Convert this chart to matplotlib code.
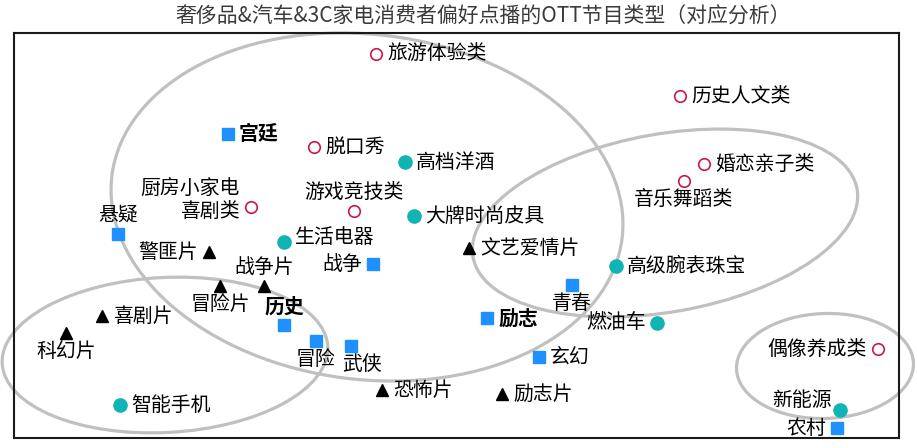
import matplotlib
matplotlib.use("Agg")
import matplotlib.pyplot as plt
from matplotlib.patches import Ellipse

plt.rcParams['font.family'] = ['Noto Sans CJK SC', 'DejaVu Sans']

title = "奢侈品&汽车&3C家电消费者偏好点播的OTT节目类型（对应分析）"

# Content types (open red circles)
content_labels = ["旅游体验类", "历史人文类", "脱口秀", "厨房小家电\n喜剧类", "游戏竞技类",
                  "婚恋亲子类", "音乐舞蹈类", "偶像养成类"]
content_x = [-0.80, 2.24, -1.42, -2.05, -1.02, 2.48, 2.28, 4.22]
content_y = [1.81, 1.39, 0.88, 0.28, 0.24, 0.71, 0.54, -1.14]

# Product categories (teal dots)
product_labels = ["高档洋酒", "大牌时尚皮具", "生活电器", "高级腕表珠宝", "燃油车", "智能手机", "新能源"]
product_x = [-0.51, -0.42, -1.72, 1.60, 2.01, -3.36, 3.84]
product_y = [0.73, 0.19, -0.07, -0.31, -0.88, -1.70, -1.75]

# Drama themes (blue squares)
theme_labels = ["宫廷", "悬疑", "战争", "历史", "冒险", "武侠", "励志", "青春", "玄幻", "农村"]
theme_x = [-2.28, -3.38, -0.83, -1.72, -1.40, -1.05, 0.31, 1.16, 0.83, 3.81]
theme_y = [1.01, 0.01, -0.29, -0.90, -1.06, -1.11, -0.83, -0.50, -1.22, -1.93]

# Film genres (black triangles)
genre_labels = ["警匪片", "战争片", "冒险片", "文艺爱情片", "喜剧片", "科幻片", "恐怖片", "励志片"]
genre_x = [-2.47, -1.92, -2.36, 0.13, -3.54, -3.90, -0.74, 0.46]
genre_y = [-0.17, -0.51, -0.51, -0.13, -0.81, -0.98, -1.55, -1.59]

# Cluster ellipses: centre x, centre y, width, height, angle
ell_cx = [-0.89, 2.09, -2.91, 3.69]
ell_cy = [0.28, 0.12, -1.20, -1.31]
ell_w = [5.14, 3.90, 3.26, 1.77]
ell_h = [3.45, 1.78, 1.55, 1.05]
ell_a = [-7, 10, 3, 2]

# label placement (style)
place = {
    "旅游体验类": "r", "历史人文类": "r", "脱口秀": "r", "厨房小家电\n喜剧类": "lk",
    "游戏竞技类": "a", "婚恋亲子类": "r", "音乐舞蹈类": "b", "偶像养成类": "l",
    "高档洋酒": "r", "大牌时尚皮具": "r", "生活电器": "ru", "高级腕表珠宝": "r",
    "燃油车": "l", "智能手机": "r", "新能源": "lu",
    "宫廷": "r", "悬疑": "a", "战争": "l", "历史": "a", "冒险": "b", "武侠": "br",
    "励志": "r", "青春": "b", "玄幻": "r", "农村": "l",
    "警匪片": "l", "战争片": "a", "冒险片": "b", "文艺爱情片": "r", "喜剧片": "r",
    "科幻片": "b", "恐怖片": "r", "励志片": "r",
}
bold = {"宫廷", "历史", "励志"}
offsets = {
    "r": ((8, 0), "left", "center"),
    "l": ((-8, 0), "right", "center"),
    "a": ((0, 6), "center", "bottom"),
    "b": ((0, -6), "center", "top"),
    "br": ((8, -6), "center", "top"),
    "ru": ((8, 3), "left", "center"),
    "lu": ((-6, 7), "right", "center"),
    "lk": ((-8, 5), "right", "center"),
}

fig = plt.figure(figsize=(9.17, 4.48), dpi=100)
ax = fig.add_axes([14/917, 1-438/448, (899-14)/917, (438-33)/448])
ax.set_xlim(-4.42, 4.43)
ax.set_ylim(-2.03, 2.02)
ax.set_xticks([])
ax.set_yticks([])
for s in ax.spines.values():
    s.set_color('#1a1a1a')
    s.set_linewidth(1.5)

for cx, cy, w, h, a in zip(ell_cx, ell_cy, ell_w, ell_h, ell_a):
    e = Ellipse((cx, cy), w, h, angle=a, fill=False, edgecolor='#c0c0c0',
                linewidth=2.3, clip_on=False, zorder=1)
    ax.add_patch(e)

ax.plot(content_x, content_y, 'o', ms=8.3, mfc='white', mec='#c8174a', mew=1.2,
        ls='none', zorder=3)
ax.plot(product_x, product_y, 'o', ms=9.5, color='#12b3b3', ls='none', zorder=3)
ax.plot(theme_x, theme_y, 's', ms=8.5, color='#1e90ff', ls='none', zorder=3)
ax.plot(genre_x, genre_y, '^', ms=8.5, color='black', ls='none', zorder=3)

def label(names, xs, ys):
    for n, x, y in zip(names, xs, ys):
        off, ha, va = offsets[place[n]]
        ax.annotate(n, (x, y), xytext=off, textcoords='offset points',
                    ha=ha, va=va, fontsize=14.3, color='black',
                    fontweight='bold' if n in bold else 'normal',
                    multialignment='right', linespacing=1.15, zorder=4,
                    annotation_clip=False)

label(content_labels, content_x, content_y)
label(product_labels, product_x, product_y)
label(theme_labels, theme_x, theme_y)
label(genre_labels, genre_x, genre_y)

fig.text(483/917, 1-17/448, title, ha='center', va='center', fontsize=15, color='#3a3a3a')

fig.savefig('out.png', dpi=100)
